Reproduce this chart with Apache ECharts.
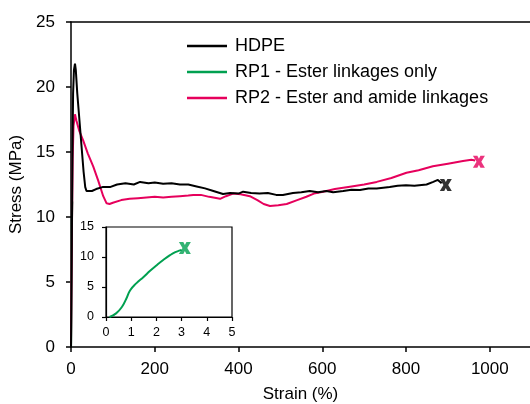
<!DOCTYPE html>
<html><head><meta charset="utf-8">
<script src="https://cdn.jsdelivr.net/npm/echarts@6/dist/echarts.min.js"></script>
<style>html,body{margin:0;padding:0;background:#fff}#c{width:530px;height:404px}</style>
</head><body><div id="c"></div>
<script>
const seriesNames = ['HDPE', 'RP1 - Ester linkages only', 'RP2 - Ester and amide linkages'];
const colors = ['#000000', '#00a050', '#e6005c'];
const xTicks = [0, 200, 400, 600, 800, 1000];
const yTicks = [0, 5, 10, 15, 20, 25];
const insetXTicks = [0, 1, 2, 3, 4, 5];
const insetYTicks = [0, 5, 10, 15];

// HDPE [strain %, stress MPa]
const hdpe = [[0,0],[2,8],[3.5,15],[5,19.5],[7,21.3],[9.5,21.8],[11.5,21.3],[15,19.5],[20,17.5],[25,15.5],[30,13.5],[34,12.3],[37,12.0],
[50,12.0],[60,12.15],[75,12.3],[93,12.3],[110,12.5],[130,12.6],[150,12.5],[165,12.7],[185,12.6],[200,12.65],[220,12.55],[240,12.6],[260,12.5],
[280,12.5],[300,12.35],[320,12.2],[340,12.0],[363,11.77],[380,11.85],[400,11.8],[411,11.95],[430,11.85],[450,11.8],[470,11.85],[490,11.7],
[506,11.7],[530,11.85],[550,11.9],[570,12.0],[590,11.9],[610,12.0],[626,11.9],[650,12.0],[670,12.1],[690,12.08],[710,12.2],[730,12.2],
[761,12.3],[780,12.4],[800,12.45],[820,12.4],[849,12.5],[865,12.7],[876,12.85],[885,12.6]];
// RP2
const rp2 = [[0,0],[1,4],[2.5,10],[4,14.5],[6,17],[9.5,17.9],[13,17.4],[20,16.6],[29,15.9],[40,14.9],[53,13.9],[65,12.8],[77,11.6],
[85,11.05],[92,11.0],[100,11.1],[120,11.3],[140,11.4],[160,11.45],[180,11.5],[200,11.55],[220,11.5],[240,11.55],[260,11.6],
[280,11.65],[292,11.7],[310,11.7],[330,11.55],[356,11.4],[370,11.6],[387,11.8],[405,11.75],[427,11.6],[445,11.3],[460,11.0],[475,10.85],
[495,10.9],[515,11.0],[540,11.3],[562,11.56],[580,11.8],[602,11.95],[630,12.15],[666,12.33],[700,12.5],[730,12.7],[765,13.0],[801,13.4],
[830,13.6],[864,13.9],[900,14.1],[936,14.3],[956,14.4],[965,14.35]];
// RP1 (inset)
const rp1 = [[0.14,0],[0.4,0.6],[0.63,1.67],[0.8,3.0],[0.96,4.45],[1.2,5.6],[1.49,6.67],[1.75,7.7],[2.0,8.6],[2.27,9.5],[2.54,10.3],[2.75,10.8],[2.94,11.1],[3.0,11.2]];
// failure points
const hdpeBreak = [[895,12.46]];
const rp2Break = [[974,14.25]];
const rp1Break = [[3.13,11.5]];

const xPath = 'path://M0,0 L3.7,0 L5,2.5 L6.3,0 L10,0 L7,5 L10,10 L6.3,10 L5,7.5 L3.7,10 L0,10 L3,5 Z';
const font = 'Liberation Sans, Arial, sans-serif';
const axisLine = {show:true, lineStyle:{color:'#000', width:1.5}};
const tick = {show:true, inside:false, length:5, lineStyle:{color:'#000', width:1.5}};
const tickSmall = {show:true, inside:false, length:4, lineStyle:{color:'#000', width:1.2}};

const chart = echarts.init(document.getElementById('c'), null, {renderer:'canvas'});
chart.setOption({
  animation:false,
  backgroundColor:'#fff',
  textStyle:{fontFamily:font},
  legend:{
    data:seriesNames, orient:'vertical', left:182, top:32, itemWidth:40, itemHeight:2.5, itemGap:8, icon:'rect',
    textStyle:{fontSize:18, color:'#000', fontFamily:font, padding:[0,0,0,3]}
  },
  grid:[
    {left:71, top:22, right:0, bottom:57, containLabel:false, outerBoundsMode:'none'},
    {left:106, top:227, width:126, height:90, show:true, borderColor:'#000', borderWidth:1.2, containLabel:false, outerBoundsMode:'none'}
  ],
  xAxis:[
    {type:'value', gridIndex:0, min:0, max:1096, interval:200, axisLine:axisLine, axisTick:tick, splitLine:{show:false},
     axisLabel:{fontSize:17, color:'#000', margin:14, showMaxLabel:false, formatter:v=>xTicks.includes(v)?String(v):''},
     name:'Strain (%)', nameLocation:'middle', nameGap:39, nameTextStyle:{fontSize:17, color:'#000'}},
    {type:'value', gridIndex:0, position:'top', min:0, max:1096, axisLine:axisLine, axisTick:{show:false}, axisLabel:{show:false}, splitLine:{show:false}},
    {type:'value', gridIndex:1, min:0, max:5, interval:1, axisLine:{show:true, lineStyle:{color:'#000', width:1.2}}, axisTick:tickSmall, splitLine:{show:false},
     axisLabel:{fontSize:12.5, color:'#000', margin:9, formatter:v=>insetXTicks.includes(v)?String(v):''}}
  ],
  yAxis:[
    {type:'value', gridIndex:0, min:0, max:25, interval:5, axisLine:axisLine, axisTick:tick, splitLine:{show:false},
     axisLabel:{fontSize:17, color:'#000', margin:16, formatter:v=>yTicks.includes(v)?String(v):''},
     name:'Stress (MPa)', nameLocation:'middle', nameGap:40, nameTextStyle:{fontSize:17, color:'#000'}},
    {type:'value', gridIndex:1, min:0, max:15, interval:5, axisLine:{show:true, lineStyle:{color:'#000', width:1.2}}, axisTick:tickSmall, splitLine:{show:false},
     axisLabel:{fontSize:12.5, color:'#000', margin:12, formatter:v=>insetYTicks.includes(v)?String(v):''}}
  ],
  series:[
    {name:seriesNames[1], type:'line', xAxisIndex:0, yAxisIndex:0, data:rp1, showSymbol:false, z:1, lineStyle:{color:colors[1], width:2}, itemStyle:{color:colors[1]}},
    {name:seriesNames[0], type:'line', xAxisIndex:0, yAxisIndex:0, data:hdpe, showSymbol:false, z:3, lineStyle:{color:colors[0], width:2}, itemStyle:{color:colors[0]}},
    {name:seriesNames[2], type:'line', xAxisIndex:0, yAxisIndex:0, data:rp2, showSymbol:false, z:2, lineStyle:{color:colors[2], width:2}, itemStyle:{color:colors[2]}},
    {name:seriesNames[1], type:'line', xAxisIndex:2, yAxisIndex:1, data:rp1, showSymbol:false, smooth:true, lineStyle:{color:colors[1], width:2}, itemStyle:{color:colors[1]}},
    {type:'scatter', xAxisIndex:0, yAxisIndex:0, data:hdpeBreak, symbol:xPath, symbolSize:[12,12], itemStyle:{color:colors[0]}},
    {type:'scatter', xAxisIndex:0, yAxisIndex:0, data:rp2Break, symbol:xPath, symbolSize:[12,12], itemStyle:{color:colors[2]}},
    {type:'scatter', xAxisIndex:2, yAxisIndex:1, data:rp1Break, symbol:xPath, symbolSize:[12,12], itemStyle:{color:colors[1]}}
  ]
});
</script></body></html>
